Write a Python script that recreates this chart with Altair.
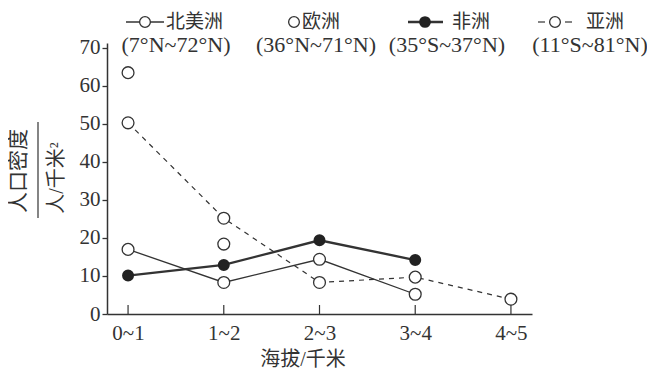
import altair as alt
import pandas as pd

categories = ["0~1", "1~2", "2~3", "3~4", "4~5"]
north_america = [17.0, 8.3, 14.4, 5.2]
europe = [63.5, 18.4]
africa = [10.1, 12.9, 19.4, 14.2]
asia = [50.3, 25.2, 8.3, 9.7, 3.9]
y_ticks = [0, 10, 20, 30, 40, 50, 60, 70]
legend_names = ["北美洲", "欧洲", "非洲", "亚洲"]
legend_ranges = ["(7°N~72°N)", "(36°N~71°N)", "(35°S~37°N)", "(11°S~81°N)"]
x_title = "海拔/千米"
y_title_top = "人口密度"
y_title_bottom = "人/千米²"

W, H = 425, 271
INK = "#333333"
SERIF = "Liberation Serif"
CJK = "Liberation Serif, Noto Sans CJK SC"


def frame(vals):
    return pd.DataFrame({"cat": categories[:len(vals)], "v": vals})


dummy = pd.DataFrame({"a": [0]})

xs = alt.X(
    "cat:O",
    sort=categories,
    scale=alt.Scale(type="point", domain=categories, padding=0.22),
    axis=alt.Axis(title=None, ticks=False, labelAngle=0, labelFont=SERIF,
                  labelFontSize=21, labelColor=INK, labelPadding=8,
                  domainColor=INK, domainWidth=1.5, grid=False),
)
ys = alt.Y(
    "v:Q",
    scale=alt.Scale(domain=[0, 71.3], nice=False, zero=True),
    axis=alt.Axis(title=None, values=y_ticks, tickSize=5, tickColor=INK,
                  tickWidth=1.3, labelFont=SERIF, labelFontSize=21,
                  labelColor=INK, labelPadding=2, domainColor=INK,
                  domainWidth=1.5, grid=False),
)


def open_pts(vals):
    return alt.Chart(frame(vals)).mark_point(
        shape="circle", filled=True, fill="white", stroke=INK,
        strokeWidth=1.3, size=140, opacity=1).encode(x=xs, y=ys)


na_line = alt.Chart(frame(north_america)).mark_line(
    color=INK, strokeWidth=1.3).encode(x=xs, y=ys)
af_line = alt.Chart(frame(africa)).mark_line(
    color=INK, strokeWidth=2.3).encode(x=xs, y=ys)
as_line = alt.Chart(frame(asia)).mark_line(
    color=INK, strokeWidth=1.2, strokeDash=[5, 5]).encode(x=xs, y=ys)

af_pts = alt.Chart(frame(africa)).mark_point(
    shape="circle", filled=True, fill="#222222", stroke="#222222",
    size=100, opacity=1).encode(x=xs, y=ys)

ticks = alt.Chart(pd.DataFrame({"cat": categories})).mark_rule(
    color=INK, strokeWidth=1.2).encode(x=xs, y=alt.value(H), y2=alt.value(H - 9))


def txt(s, x, y, font, size, align="left", angle=0):
    kw = dict(text=s, font=font, fontSize=size, color=INK, align=align,
              baseline="middle")
    if angle:
        kw["angle"] = angle
    return alt.Chart(dummy).mark_text(**kw).encode(x=alt.value(x), y=alt.value(y))


def hline(x1, x2, y, w=1.3):
    return alt.Chart(dummy).mark_rule(color=INK, strokeWidth=w).encode(
        x=alt.value(x1), x2=alt.value(x2), y=alt.value(y))


def legend_pt(x, y, filled=False):
    if filled:
        return alt.Chart(dummy).mark_point(
            shape="circle", filled=True, fill="#222222", stroke="#222222",
            size=95, opacity=1).encode(x=alt.value(x), y=alt.value(y))
    return alt.Chart(dummy).mark_point(
        shape="circle", filled=True, fill="white", stroke=INK,
        strokeWidth=1.3, size=115, opacity=1).encode(x=alt.value(x), y=alt.value(y))


R1, R2 = -21, 2
legend = [
    hline(19, 57, R1), legend_pt(38, R1), txt(legend_names[0], 59, R1, CJK, 19),
    txt(legend_ranges[0], 69, R2, SERIF, 22, "center"),
    legend_pt(187, R1), txt(legend_names[1], 195, R1, CJK, 19),
    txt(legend_ranges[1], 209, R2, SERIF, 22, "center"),
    hline(301, 336, R1, 2.3), legend_pt(318, R1, True), txt(legend_names[2], 345, R1, CJK, 19),
    txt(legend_ranges[2], 340, R2, SERIF, 22, "center"),
    hline(431, 438, R1, 1.2), hline(458, 465, R1, 1.2), legend_pt(448, R1),
    txt(legend_names[3], 479, R1, CJK, 19),
    txt(legend_ranges[3], 483, R2, SERIF, 22, "center"),
]

titles = [
    txt(x_title, 196, 317, CJK, 20, "center"),
    txt(y_title_top, -88, 128, CJK, 21, "center", 270),
    txt(y_title_bottom, -50, 135, CJK, 20, "center", 270),
    alt.Chart(dummy).mark_rule(color=INK, strokeWidth=1.2).encode(
        x=alt.value(-69), y=alt.value(79), y2=alt.value(175)),
]

chart = alt.layer(
    na_line, af_line, as_line, ticks,
    open_pts(north_america), open_pts(europe), open_pts(asia), af_pts,
    *legend, *titles,
).properties(
    width=W, height=H,
    autosize=alt.AutoSizeParams(type="none"),
    padding={"left": 99, "top": 35, "right": 115, "bottom": 58},
    background="white",
).configure_view(stroke=None)

chart.save("out.html", embed_options={"renderer": "svg", "actions": False})
